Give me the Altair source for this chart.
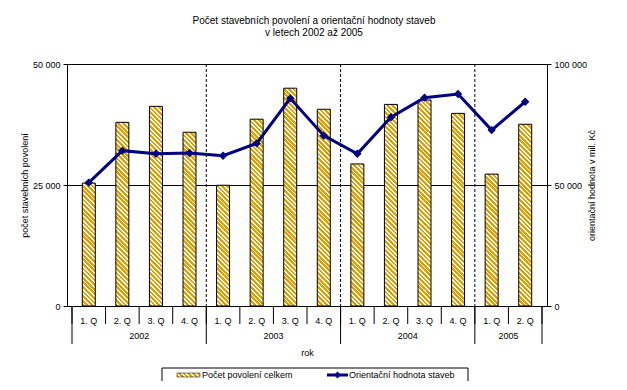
import altair as alt
import pandas as pd

# ---------------- data ----------------
quarters = ["1. Q", "2. Q", "3. Q", "4. Q",
            "1. Q", "2. Q", "3. Q", "4. Q",
            "1. Q", "2. Q", "3. Q", "4. Q",
            "1. Q", "2. Q"]
years = ["2002", "2003", "2004", "2005"]
quarters_per_year = [4, 4, 4, 2]
permits = [25400, 37950, 41250, 35900, 24950, 38600, 45000, 40650,
           29350, 41650, 42550, 39800, 27250, 37550]
values = [51000, 64200, 62900, 63200, 62100, 67200, 85800, 70400,
          62900, 78000, 86100, 87600, 72700, 84400]
legend_labels = ["Počet povolení celkem", "Orientační hodnota staveb"]
title_lines = ["Počet stavebních povolení a orientační hodnoty staveb",
               "v letech 2002 až 2005"]
left_title = "počet stavebních povolení"
right_title = "orientační hodnota v mil. Kč"
x_title = "rok"

# ---------------- styling ----------------
W, H = 480, 242
LEFT_MAX, RIGHT_MAX = 50000, 100000
BAR_W = 13
ORANGE = "#E0A000"
NAVY = "#000080"
FONT = "Liberation Sans"
FS = 9


def hatch(w, h, period=4.6, frac=0.6):
    """Diagonal (down-right) stripes via a bounding-box linear gradient."""
    total = w + h
    stops = []
    k = 0
    while k * period < total:
        a = k * period / total
        b = min((k + frac) * period / total, 1.0)
        c = min((k + 1) * period / total, 1.0)
        stops += [{"offset": a, "color": ORANGE}, {"offset": b, "color": ORANGE},
                  {"offset": b, "color": "white"}, {"offset": c, "color": "white"}]
        k += 1
    den = w * w + h * h
    dx = w * (w + h) / den
    dy = -h * (w + h) / den
    return {"gradient": "linear", "x1": 0, "y1": 1, "x2": dx, "y2": 1 + dy,
            "stops": stops}


n = len(quarters)
df = pd.DataFrame({
    "pos": [i + 0.5 for i in range(n)],
    "idx": list(range(n)),
    "quarter": quarters,
    "permits": permits,
    "value": values,
})

bounds_q = pd.DataFrame({"pos": list(range(n + 1))})
year_starts = [sum(quarters_per_year[:k]) for k in range(len(years))]
year_bounds = year_starts + [n]
bounds_y = pd.DataFrame({"pos": year_bounds})
bounds_dash = pd.DataFrame({"pos": year_starts[1:]})
year_df = pd.DataFrame({
    "pos": [s + q / 2 for s, q in zip(year_starts, quarters_per_year)],
    "year": years,
})
one = pd.DataFrame({"a": [0]})

X = alt.X("pos:Q",
          scale=alt.Scale(domain=[0, n], nice=False, zero=False),
          axis=alt.Axis(title=x_title, labels=False, ticks=False, domain=False,
                        grid=False, titlePadding=42, titleFontSize=FS))

Y_left = alt.Y("permits:Q",
               scale=alt.Scale(domain=[0, LEFT_MAX], nice=False),
               axis=alt.Axis(values=[0, 25000, 50000], title=left_title,
                             grid=True, gridColor="black", gridOpacity=1, gridWidth=1,
                             domainColor="black", tickColor="black", tickSize=4,
                             labelPadding=3, titlePadding=3,
                             labelExpr="replace(format(datum.value, ',d'), ',', ' ')"))

bar_layers = []
for i in range(n):
    h_px = permits[i] / LEFT_MAX * H
    bar_layers.append(
        alt.Chart(df).transform_filter(alt.datum.idx == i)
        .mark_bar(size=BAR_W, fill=hatch(BAR_W, h_px), stroke="black", strokeWidth=1)
        .encode(x=X, y=Y_left)
    )

dash_rules = alt.Chart(bounds_dash).mark_rule(color="black", strokeWidth=1, strokeDash=[3, 2]).encode(
    x=X, y=alt.value(0), y2=alt.value(H))
q_rules = alt.Chart(bounds_q).mark_rule(color="black", strokeWidth=1).encode(
    x=X, y=alt.value(H), y2=alt.value(H + 18))
y_rules = alt.Chart(bounds_y).mark_rule(color="black", strokeWidth=1).encode(
    x=X, y=alt.value(H), y2=alt.value(H + 38))
q_text = alt.Chart(df).mark_text(fontSize=FS, font=FONT, baseline="middle", color="black").encode(
    x=X, y=alt.value(H + 15), text="quarter:N")
y_text = alt.Chart(year_df).mark_text(fontSize=FS, font=FONT, baseline="middle", color="black").encode(
    x=X, y=alt.value(H + 30), text="year:N")

# legend (manual)
LY = 311  # legend centre line
leg_box = alt.Chart(one).mark_rect(fill="white", stroke="black", strokeWidth=1).encode(
    x=alt.value(95), x2=alt.value(401), y=alt.value(LY - 7), y2=alt.value(LY + 7))
leg_bar = alt.Chart(one).mark_rect(fill=hatch(23, 4), stroke="black", strokeWidth=0.5).encode(
    x=alt.value(110), x2=alt.value(133), y=alt.value(LY - 2), y2=alt.value(LY + 2))
leg_t1 = alt.Chart(one).mark_text(align="left", baseline="middle", fontSize=FS, font=FONT, color="black").encode(
    x=alt.value(135), y=alt.value(LY), text=alt.value(legend_labels[0]))
leg_line = alt.Chart(one).mark_rule(color=NAVY, strokeWidth=3).encode(
    x=alt.value(260), x2=alt.value(281), y=alt.value(LY))
leg_pt = alt.Chart(one).mark_point(shape="diamond", filled=True, size=50, color=NAVY, opacity=1).encode(
    x=alt.value(270.5), y=alt.value(LY))
leg_t2 = alt.Chart(one).mark_text(align="left", baseline="middle", fontSize=FS, font=FONT, color="black").encode(
    x=alt.value(282), y=alt.value(LY), text=alt.value(legend_labels[1]))

inner = alt.layer(dash_rules, *bar_layers, q_rules, y_rules, q_text, y_text,
                  leg_box, leg_bar, leg_t1, leg_line, leg_pt, leg_t2)

line = alt.Chart(df).mark_line(
    color=NAVY, strokeWidth=3,
    point=alt.OverlayMarkDef(shape="diamond", size=70, filled=True, color=NAVY, opacity=1)
).encode(
    x=X,
    y=alt.Y("value:Q", scale=alt.Scale(domain=[0, RIGHT_MAX], nice=False),
            axis=alt.Axis(orient="right", values=[0, 50000, 100000], title=right_title,
                          grid=False, domainColor="black", tickColor="black", tickSize=4,
                          labelPadding=3, titleAngle=270, titleBaseline="bottom", titlePadding=10,
                          labelExpr="replace(format(datum.value, ',d'), ',', ' ')"))
)

chart = alt.layer(inner, line).resolve_scale(y="independent").properties(
    width=W, height=H,
    autosize=alt.AutoSizeParams(type="none"),
    padding={"left": 59, "top": 56, "right": 72, "bottom": 75},
    background="white",
    title=alt.TitleParams(text=title_lines, fontSize=10, fontWeight="normal", font=FONT,
                          color="black", anchor="middle", offset=22, dx=7, lineHeight=12),
).configure_view(stroke=None).configure_axis(
    labelFont=FONT, titleFont=FONT, labelFontSize=FS, titleFontSize=FS,
    labelColor="black", titleColor="black", titleFontWeight="normal"
)

chart.save("out.html", embed_options={"renderer": "svg", "actions": False})
